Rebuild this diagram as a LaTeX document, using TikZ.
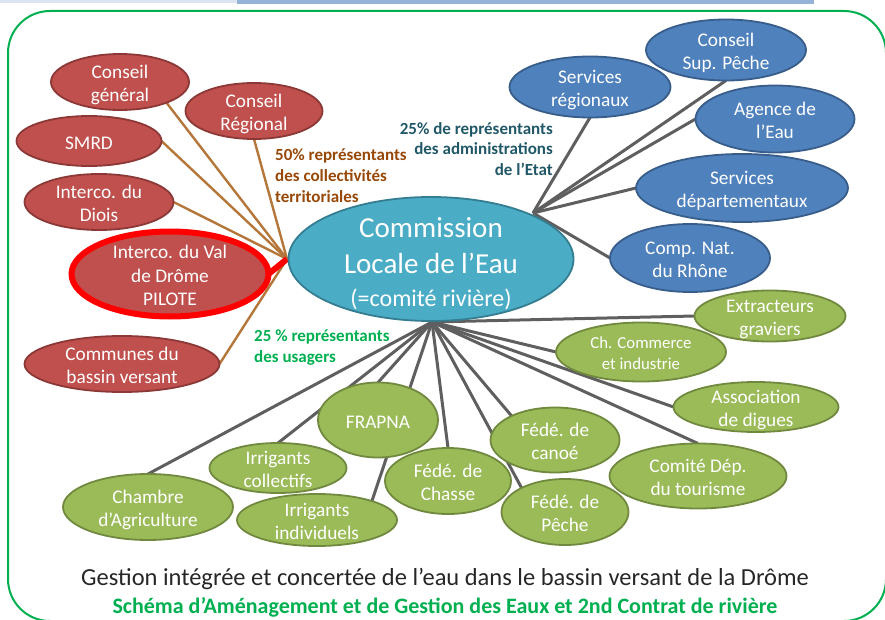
\documentclass[tikz,border=0pt]{standalone}
\usepackage{fontspec}
\setmainfont{Carlito}
\usetikzlibrary{shapes.geometric,backgrounds}
\definecolor{frameg}{HTML}{00B050}
\definecolor{redf}{HTML}{C0504D}\definecolor{redb}{HTML}{8C3836}
\definecolor{bluef}{HTML}{4F81BD}\definecolor{blueb}{HTML}{385D8A}
\definecolor{greenf}{HTML}{9BBB59}\definecolor{greenb}{HTML}{71893F}
\definecolor{mainf}{HTML}{4BACC6}\definecolor{mainb}{HTML}{357D91}
\definecolor{brownl}{HTML}{B5763A}\definecolor{greyl}{HTML}{5F5F5F}
\definecolor{brownt}{HTML}{984806}\definecolor{tealt}{HTML}{215868}
\definecolor{barl}{HTML}{DBE5F1}\definecolor{bard}{HTML}{95B3D7}
\newcommand{\lab}[2][-8.5pt]{\makebox[0pt]{\smash{\raisebox{#1}{\setlength{\tabcolsep}{0pt}\begin{tabular}[c]{c}#2\end{tabular}}}}}
\tikzset{
  ell/.style={ellipse,inner sep=0pt,outer sep=0pt,line width=1.8pt,text=white,
    font=\fontsize{19.3}{23.7}\selectfont},
  redn/.style={ell,draw=redb,fill=redf},
  bluen/.style={ell,draw=blueb,fill=bluef},
  greenn/.style={ell,draw=greenb,fill=greenf},
  brownline/.style={draw=brownl,line width=2.4pt},
  greyline/.style={draw=greyl,line width=3pt},
  note/.style={inner sep=0pt,font=\bfseries\fontsize{17}{20.7}\selectfont}
}
\begin{document}
\begin{tikzpicture}[x=1pt,y=-1pt]
\useasboundingbox (0,0) rectangle (885,620);
\fill[barl] (0,0) rectangle (237,3);
\fill[bard] (237,0) rectangle (814,4);
\draw[frameg,line width=2pt,rounded corners=42pt] (8,11) rectangle (886,621);

\coordinate (hubL) at (287,259);
\coordinate (hubR) at (533,213);
\coordinate (hubB) at (432,322);

% Red group
\node[redn,minimum width=138pt,minimum height=56pt] (cg) at (120,82) {\lab{Conseil\\général}};
\node[redn,minimum width=137pt,minimum height=56pt] (cr) at (254,111) {\lab{Conseil\\Régional}};
\node[redn,minimum width=145pt,minimum height=50pt] (smrd) at (89,141) {\lab{SMRD}};
\node[redn,minimum width=149pt,minimum height=56pt] (diois) at (99,202) {\lab{Interco. du\\Diois}};
\node[ell,draw=red,fill=redf,line width=6pt,minimum width=197pt,minimum height=85pt] (val) at (170,274) {\lab{Interco. du Val\\de Drôme\\PILOTE}};
\node[redn,minimum width=195pt,minimum height=56pt] (comm) at (122,364) {\lab{Communes du\\bassin versant}};

% Main
\node[ell,draw=mainb,fill=mainf,minimum width=285pt,minimum height=124pt,font=\fontsize{29}{36}\selectfont] (cle) at (431,259)
  {\lab[-12pt]{Commission\\Locale de l’Eau\\[-3pt]{\fontsize{24}{33}\selectfont (=comité rivière)}}};

% Blue group
\node[bluen,minimum width=161pt,minimum height=61pt] (sr) at (590,87) {\lab{Services\\régionaux}};
\node[bluen,minimum width=160pt,minimum height=61pt] (csp) at (726,50) {\lab{Conseil\\Sup. Pêche}};
\node[bluen,minimum width=159pt,minimum height=67pt] (ae) at (775,119) {\lab{Agence de\\l’Eau}};
\node[bluen,minimum width=212pt,minimum height=68pt] (sd) at (742,188) {\lab{Services\\départementaux}};
\node[bluen,minimum width=160pt,minimum height=68pt] (cnr) at (690,258) {\lab{Comp. Nat.\\du Rhône}};

% Green group
\node[greenn,minimum width=151pt,minimum height=51pt] (ext) at (770,316) {\lab{Extracteurs\\graviers}};
\node[greenn,minimum width=170pt,minimum height=59pt,font=\fontsize{16.8}{20.5}\selectfont] (chc) at (641,352) {\lab[-7pt]{Ch. Commerce\\et industrie}};
\node[greenn,minimum width=165pt,minimum height=50pt] (assoc) at (756,407) {\lab{Association\\de digues}};
\node[greenn,minimum width=177pt,minimum height=65pt] (tour) at (698,476) {\lab{Comité Dép.\\du tourisme}};
\node[greenn,minimum width=126pt,minimum height=66pt] (chasse) at (448,481) {\lab{Fédé. de\\Chasse}};
\node[greenn,minimum width=127pt,minimum height=66pt] (peche) at (565,512) {\lab{Fédé. de\\Pêche}};
\node[greenn,minimum width=129pt,minimum height=65pt] (canoe) at (555,440) {\lab{Fédé. de\\canoé}};
\node[greenn,minimum width=160pt,minimum height=52pt] (indiv) at (317,520) {\lab{Irrigants\\individuels}};
\node[greenn,minimum width=137pt,minimum height=50pt] (coll) at (278,468) {\lab{Irrigants\\collectifs}};
\node[greenn,minimum width=120pt,minimum height=75pt] (frapna) at (378,420) {\lab{FRAPNA}};
\node[greenn,minimum width=170pt,minimum height=66pt] (agri) at (148,507) {\lab{Chambre\\d’Agriculture}};

% Connectors, behind the ellipses
\begin{scope}[on background layer]
  \path[brownline] (cg.-24) -- (hubL);
  \path[brownline] (cr.south) -- (hubL);
  \path[brownline] (smrd.east) -- (hubL);
  \path[brownline] (diois.east) -- (hubL);
  \path[brownline] (comm.east) -- (hubL);
  \draw[red,line width=6pt] (val.east) -- (hubL);
  \path[greyline] (hubR) -- (sr.south);
  \path[greyline] (hubR) -- (csp.south);
  \path[greyline] (hubR) -- (ae.west);
  \path[greyline] (hubR) -- (sd.west);
  \path[greyline] (hubR) -- (cnr.west);
  \path[greyline] (hubB) -- (ext.west);
  \path[greyline] (hubB) -- (chc.west);
  \path[greyline] (hubB) -- (assoc.west);
  \path[greyline] (hubB) -- (tour.north);
  \path[greyline] (hubB) -- (canoe.151.5);
  \path[greyline] (hubB) -- (peche.151.5);
  \path[greyline] (hubB) -- (chasse.north);
  \path[greyline] (hubB) -- (indiv.19);
  \path[greyline] (hubB) -- (frapna.north);
  \path[greyline] (hubB) -- (coll.north);
  \path[greyline] (hubB) -- (agri.north);
\end{scope}

% Notes
\node[note,text=brownt,align=left,anchor=north west] (n50) at (275,149) {50\% représentants\\des collectivités\\territoriales};
\node[note,text=tealt,align=right,anchor=north east] (n25a) at (553,122) {25\% de représentants\\des administrations\\de l’Etat};
\node[note,text=frameg,align=left,anchor=north west] (n25b) at (254,330) {25 \% représentants\\des usagers};

\node[inner sep=0pt,font=\fontsize{24.5}{28}\selectfont,text=black!85] (t1) at (445,579) {Gestion intégrée et concertée de l’eau dans le bassin versant de la Drôme};
\node[inner sep=0pt,font=\bfseries\fontsize{22}{26}\selectfont,text=frameg] (t2) at (445,607) {Schéma d’Aménagement et de Gestion des Eaux et 2nd Contrat de rivière};
\end{tikzpicture}
\end{document}
